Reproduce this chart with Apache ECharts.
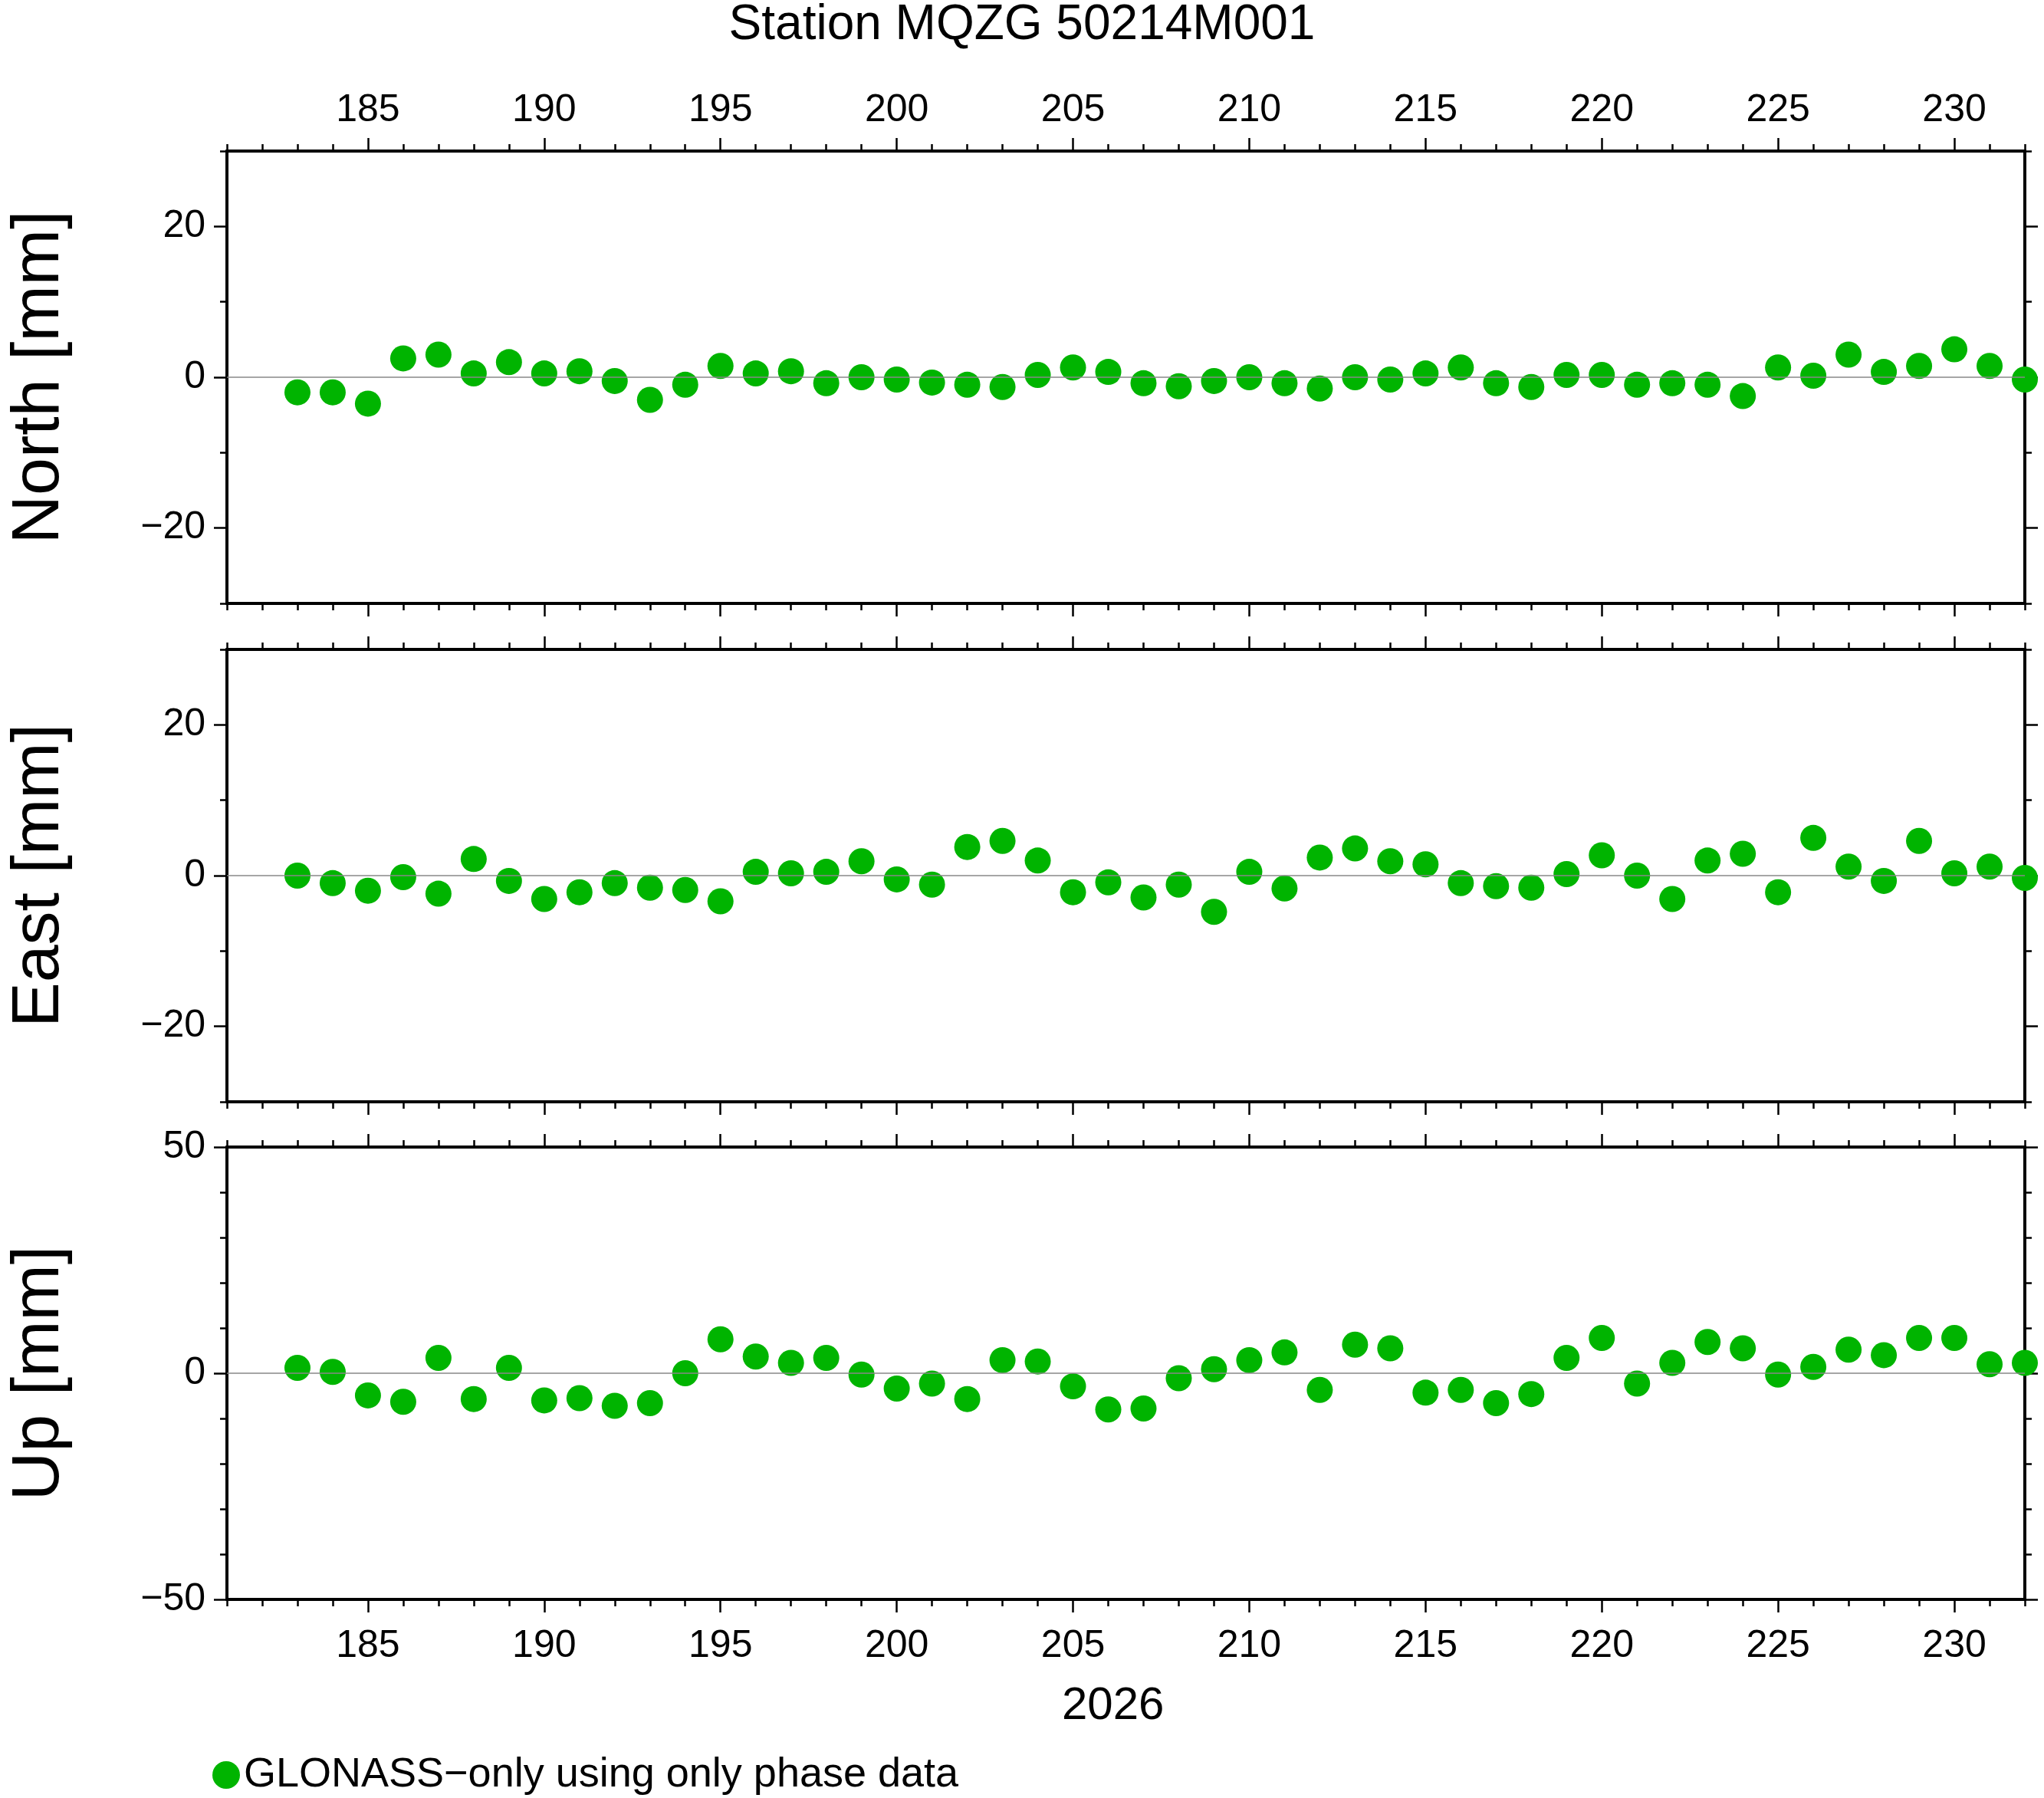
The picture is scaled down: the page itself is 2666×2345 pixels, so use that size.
<!DOCTYPE html>
<html><head><meta charset="utf-8">
<script src="https://cdn.jsdelivr.net/npm/echarts@6/dist/echarts.min.js"></script>
<style>html,body{margin:0;background:#fff}#main{width:2666px;height:2345px}</style>
</head><body><div id="main"></div>
<script>
// day of year 2026
var days = [];
for (var d = 183; d <= 232; d++) days.push(d);
var north = [-2,-2,-3.5,2.5,3,0.5,2,0.5,0.8,-0.5,-3,-1,1.5,0.5,0.8,-0.8,0,-0.3,-0.7,-1,-1.3,0.3,1.3,0.7,-0.8,-1.2,-0.5,0,-0.8,-1.5,0,-0.3,0.5,1.3,-0.8,-1.3,0.3,0.3,-1,-0.8,-1,-2.5,1.3,0.2,3,0.7,1.5,3.7,1.5,-0.3];
var east = [0,-1,-2,-0.2,-2.4,2.2,-0.7,-3.1,-2.2,-1,-1.6,-1.9,-3.4,0.5,0.3,0.5,1.9,-0.5,-1.2,3.8,4.6,2,-2.2,-0.9,-2.9,-1.2,-4.8,0.5,-1.7,2.4,3.6,1.9,1.5,-1,-1.4,-1.6,0.2,2.7,0,-3.1,2,2.9,-2.2,5,1.2,-0.7,4.6,0.3,1.2,-0.3];
var up = [1.2,0.3,-4.9,-6.3,3.4,-5.7,1.2,-6,-5.5,-7.2,-6.6,0,7.5,3.7,2.3,3.4,-0.3,-3.4,-2.3,-5.7,2.9,2.6,-2.9,-8,-7.8,-1.1,0.9,2.9,4.6,-3.7,6.3,5.5,-4.3,-3.7,-6.6,-4.6,3.4,7.8,-2.3,2.3,6.9,5.5,-0.3,1.4,5.2,4,7.8,7.8,2,2.3];
var xMajor = [185,190,195,200,205,210,215,220,225,230];
var xMinor = []; for (var i = 181; i <= 232; i++) xMinor.push(i);
var panels = [
  {name:'North [mm]', data:north, min:-30, max:30, major:[-20,0,20], minor:[-30,-10,10,30]},
  {name:'East [mm]', data:east, min:-30, max:30, major:[-20,0,20], minor:[-30,-10,10,30]},
  {name:'Up [mm]', data:up, min:-50, max:50, major:[-50,0,50], minor:[-40,-30,-20,-10,10,20,30,40]}
];
var tops = [197, 847, 1496], H = 590;
var font = 'Liberation Sans, Arial, sans-serif';
var line = {show:true, onZero:false, lineStyle:{color:'#000', width:4}};
var grid = [], xAxis = [], yAxis = [], series = [];
panels.forEach(function(p, k){
  grid.push({left:277, width:2364, top:tops[k], height:H});
  function xa(pos, vals, len, lab){
    xAxis.push({type:'value', gridIndex:k, position:pos, min:181, max:232, axisLine:line,
      splitLine:{show:false},
      axisTick:{show:true, customValues:vals, length:len, lineStyle:{color:'#000', width:2.5}},
      axisLabel:{show:lab, customValues:xMajor, color:'#000', fontSize:50, fontFamily:font, margin:pos==='top'?28:36}});
  }
  xa('bottom', xMajor, 17, k===2); xa('top', xMajor, 17, k===0);
  xa('bottom', xMinor, 9, false); xa('top', xMinor, 9, false);
  function ya(pos, vals, len, lab){
    yAxis.push({type:'value', gridIndex:k, position:pos, min:p.min, max:p.max, axisLine:line,
      splitLine:{show:false},
      name: lab ? p.name : '', nameLocation:'middle', nameGap:200, nameRotate:90,
      nameTextStyle:{fontSize:88, fontFamily:font, color:'#000'},
      axisTick:{show:true, customValues:vals, length:len, lineStyle:{color:'#000', width:2.5}},
      axisLabel:{show:lab, customValues:p.major, color:'#000', fontSize:50, fontFamily:font, margin:28,
        formatter:function(v){return v<0 ? '\u2212'+(-v) : String(v);}}});
  }
  ya('left', p.major, 17, true); ya('right', p.major, 17, false);
  ya('left', p.minor, 9, false); ya('right', p.minor, 9, false);
  series.push({type:'scatter', name:'GLONASS\u2212only using only phase data',
    xAxisIndex:k*4, yAxisIndex:k*4, symbolSize:34, itemStyle:{color:'#00b400', opacity:1},
    data: days.map(function(d,i){return [d, p.data[i]];}),
    markLine:{silent:true, symbol:'none', label:{show:false},
      lineStyle:{color:'#888', width:1.5, type:'solid'}, data:[{yAxis:0}]}});
});
var chart = echarts.init(document.getElementById('main'));
chart.setOption({
  backgroundColor:'#fff', animation:false,
  title:{text:'Station MQZG 50214M001', left:'center', top:-4,
    textStyle:{fontSize:64, fontWeight:'normal', fontFamily:font, color:'#000'}},
  graphic:[{type:'text', left:1385, top:2195,
    style:{text:'2026', font:'60px '+font, fill:'#000'}}],
  legend:{data:['GLONASS\u2212only using only phase data'], left:272, top:2283, itemWidth:36, itemHeight:36,
    itemGap:24, textStyle:{fontSize:54, fontFamily:font, color:'#000'}},
  grid:grid, xAxis:xAxis, yAxis:yAxis, series:series
});
</script></body></html>
